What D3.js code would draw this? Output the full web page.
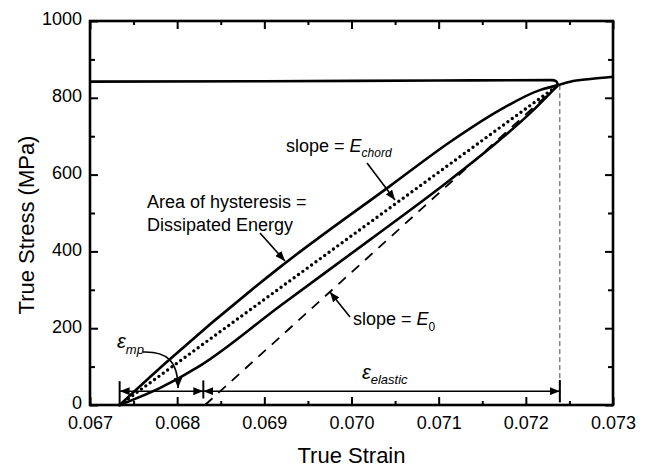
<!DOCTYPE html>
<html>
<head>
<meta charset="utf-8">
<script src="https://cdn.jsdelivr.net/npm/d3@7"></script>
<style>
  body { margin: 0; background: #fff; }
  text { font-family: "Liberation Sans", Arial, sans-serif; fill: #000; }
</style>
</head>
<body>
<div class="chart"></div>
<script>
var margin = {top: 21, right: 39, bottom: 63, left: 90};
var width = 652 - margin.left - margin.right;
var height = 468 - margin.top - margin.bottom;

// axis ticks
let xTicks = [0.067, 0.068, 0.069, 0.070, 0.071, 0.072, 0.073];
let xMinor = [0.0675, 0.0685, 0.0695, 0.0705, 0.0715, 0.0725];
let yTicks = [0, 200, 400, 600, 800, 1000];
let yMinor = [100, 300, 500, 700, 900];

// monotonic curve (before unloading) and continued loading after the loop
let flowStrain = [0.0670, 0.0690, 0.0710, 0.07230, 0.07235, 0.07237];
let flowStress = [842, 843, 845, 846, 843, 833];
let reloadStrain = [0.07237, 0.07251, 0.07274, 0.07300];
let reloadStress = [833, 842, 849, 855];

// hysteresis loop
let upperStrain = [0.06734, 0.06788, 0.06918, 0.07044, 0.07113, 0.07170, 0.07216, 0.07237];
let upperStress = [0, 112, 359, 570, 685, 768, 820, 833];
let lowerStrain = [0.06734, 0.06780, 0.06826, 0.06918, 0.07021, 0.07113, 0.07170, 0.07205, 0.07237];
let lowerStress = [0, 44, 102, 258, 430, 586, 690, 760, 833];

// chord and E0 lines
let chordStrain = [0.06734, 0.07237];
let chordStress = [0, 833];
let e0Strain = [0.06832, 0.07237];
let e0Stress = [0, 833];

// strain markers: start of loop, end of plastic part, tip
let strainMarks = [0.06734, 0.06830, 0.07239];

let svg = d3.select('.chart')
  .append('svg')
  .attr('width', width + margin.left + margin.right)
  .attr('height', height + margin.top + margin.bottom)
  .append('g')
  .attr('transform', `translate(${margin.left}, ${margin.top})`);

let defs = svg.append('defs');
defs.append('marker')
  .attr('id', 'arrow')
  .attr('viewBox', '0 0 10 8')
  .attr('refX', 10).attr('refY', 4)
  .attr('markerUnits', 'userSpaceOnUse')
  .attr('markerWidth', 10).attr('markerHeight', 8)
  .attr('orient', 'auto-start-reverse')
  .append('path')
  .attr('d', 'M0,0 L10,4 L0,8 z')
  .style('fill', '#000');

let x = d3.scaleLinear().domain([0.067, 0.073]).range([0, width]);
let y = d3.scaleLinear().domain([0, 1000]).range([height, 0]);

//axes
function styleAxis(g) {
  g.select('.domain').remove();
  g.selectAll('line').style('stroke', '#000').style('stroke-width', 2);
  g.selectAll('text').style('font-size', '18px').style('fill', '#000')
    .style('font-family', '"Liberation Sans", Arial, sans-serif');
}

svg.append('g')
  .attr('transform', `translate(0, ${height})`)
  .call(d3.axisBottom(x).tickValues(xTicks).tickSize(-8).tickPadding(11).tickFormat(d3.format('.3f')))
  .call(styleAxis);
svg.append('g')
  .attr('transform', `translate(0, ${height})`)
  .call(d3.axisBottom(x).tickValues(xMinor).tickSize(-4).tickFormat(''))
  .call(styleAxis);
svg.append('g')
  .call(d3.axisTop(x).tickValues(xTicks).tickSize(-8).tickFormat(''))
  .call(styleAxis);
svg.append('g')
  .call(d3.axisTop(x).tickValues(xMinor).tickSize(-4).tickFormat(''))
  .call(styleAxis);
svg.append('g')
  .call(d3.axisLeft(y).tickValues(yTicks).tickSize(-8).tickPadding(8).tickFormat(d3.format('d')))
  .call(styleAxis)
  .selectAll('text').attr('dy', '0.22em');
svg.append('g')
  .call(d3.axisLeft(y).tickValues(yMinor).tickSize(-5).tickFormat(''))
  .call(styleAxis);
svg.append('g')
  .attr('transform', `translate(${width}, 0)`)
  .call(d3.axisRight(y).tickValues(yTicks).tickSize(-8).tickFormat(''))
  .call(styleAxis);
svg.append('g')
  .attr('transform', `translate(${width}, 0)`)
  .call(d3.axisRight(y).tickValues(yMinor).tickSize(-5).tickFormat(''))
  .call(styleAxis);

svg.append('rect')
  .attr('width', width)
  .attr('height', height)
  .style('fill', 'none')
  .style('stroke', '#000')
  .style('stroke-width', 2.6);

svg.append('text')
  .attr('x', width / 2)
  .attr('y', height + 58)
  .style('text-anchor', 'middle')
  .style('font-size', '22px')
  .text('True Strain');

svg.append('text')
  .attr('transform', `translate(-56, ${height / 2 + 12}) rotate(-90)`)
  .style('text-anchor', 'middle')
  .style('font-size', '22px')
  .text('True Stress (MPa)');

//curves
let line = d3.line()
  .x(d => x(d[0]))
  .y(d => y(d[1]))
  .curve(d3.curveMonotoneX);

function pairs(xs, ys) {
  return xs.map((v, i) => [v, ys[i]]);
}

// dashed guide at the tip
svg.append('line')
  .attr('x1', x(strainMarks[2])).attr('x2', x(strainMarks[2]))
  .attr('y1', y(chordStress[1])).attr('y2', y(0))
  .style('stroke', '#444')
  .style('stroke-width', 1)
  .style('stroke-dasharray', '5 3');

svg.append('path')
  .attr('d', line(pairs(e0Strain, e0Stress)))
  .style('fill', 'none').style('stroke', '#000')
  .style('stroke-width', 1.8)
  .style('stroke-dasharray', '10 8');

svg.append('path')
  .attr('d', line(pairs(chordStrain, chordStress)))
  .style('fill', 'none').style('stroke', '#000')
  .style('stroke-width', 3.4)
  .style('stroke-linecap', 'round')
  .style('stroke-dasharray', '0 5.4');

[pairs(flowStrain, flowStress), pairs(reloadStrain, reloadStress),
 pairs(upperStrain, upperStress), pairs(lowerStrain, lowerStress)].forEach(d => {
  svg.append('path')
    .attr('d', line(d))
    .style('fill', 'none')
    .style('stroke', '#000')
    .style('stroke-width', 2.6)
    .style('stroke-linejoin', 'round');
});

//annotations
function arrow(x1, y1, x2, y2, both) {
  let l = svg.append('line')
    .attr('x1', x(x1)).attr('y1', y(y1))
    .attr('x2', x(x2)).attr('y2', y(y2))
    .style('stroke', '#000').style('stroke-width', 1.6)
    .attr('marker-end', 'url(#arrow)');
  if (both) l.attr('marker-start', 'url(#arrow)');
}

arrow(0.070178, 630, 0.070499, 534);
arrow(0.068950, 448, 0.069237, 375);
arrow(0.069983, 229, 0.069753, 294);

// dimension arrows
let dimStress = 36;
arrow(strainMarks[0], dimStress, strainMarks[1], dimStress, true);
arrow(strainMarks[1], dimStress, strainMarks[2], dimStress, true);
[[strainMarks[0], 0, 62], [strainMarks[1], 17, 64], [strainMarks[2], 7, 65]].forEach(d => {
  svg.append('line')
    .attr('x1', x(d[0])).attr('x2', x(d[0]))
    .attr('y1', y(d[1])).attr('y2', y(d[2]))
    .style('stroke', '#000').style('stroke-width', 2);
});

// eps_mp leader
svg.append('path')
  .attr('d', `M${x(0.067608)},${y(138)} C${x(0.067880)},${y(140)} ${x(0.068010)},${y(115)} ${x(0.068010)},${y(44)}`)
  .style('fill', 'none').style('stroke', '#000').style('stroke-width', 1.6)
  .attr('marker-end', 'url(#arrow)');

function label(sx, sy, parts) {
  let t = svg.append('text')
    .attr('x', x(sx)).attr('y', y(sy))
    .style('font-size', '18px');
  parts.forEach(p => {
    let s = t.append('tspan').text(p.t);
    if (p.i) s.style('font-style', 'italic');
    if (p.sub) s.attr('dy', p.sub).style('font-size', p.size || '12px');
    if (p.size && !p.sub) s.style('font-size', p.size);
  });
  return t;
}

label(0.069249, 659, [{t: 'slope = '}, {t: 'E', i: true}, {t: 'chord', i: true, sub: 5}]);
label(0.067654, 513, [{t: 'Area of hysteresis ='}]);
label(0.067654, 453, [{t: 'Dissipated Energy'}]);
label(0.070017, 208, [{t: 'slope = '}, {t: 'E', i: true}, {t: '0', sub: 6}]);
label(0.06731, 148, [{t: 'ε', i: true, size: '20px'}, {t: 'mp', i: true, sub: 6, size: '13px'}]);
label(0.07012, 68, [{t: 'ε', i: true, size: '20px'}, {t: 'elastic', i: true, sub: 5, size: '13px'}]);
</script>
</body>
</html>
